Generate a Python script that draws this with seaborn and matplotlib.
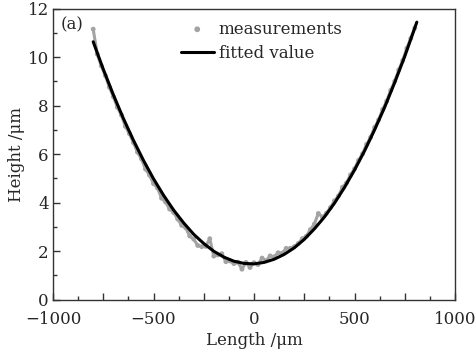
#!/usr/bin/env python3
"""
Profile height vs. length: measured points and parabolic fit (panel a)
"""

import matplotlib
matplotlib.use('Agg')
import matplotlib.pyplot as plt
from matplotlib.ticker import MultipleLocator, FuncFormatter
import seaborn as sns
import pandas as pd

meas_x = list(range(-800, 801, 20))
meas_h = [11.15, 10.12, 9.64, 9.24, 8.76, 8.37, 7.93, 7.61, 7.14, 6.84,
          6.47, 6.08, 5.80, 5.38, 5.13, 4.78, 4.60, 4.18, 4.02, 3.73,
          3.59, 3.32, 3.06, 2.96, 2.62, 2.49, 2.23, 2.18, 2.19, 2.51,
          1.79, 1.84, 1.89, 1.56, 1.59, 1.48, 1.54, 1.25, 1.53, 1.32,
          1.52, 1.44, 1.71, 1.60, 1.80, 1.76, 1.93, 1.91, 2.11, 2.11,
          2.18, 2.31, 2.51, 2.61, 2.88, 3.11, 3.55, 3.40, 3.56, 3.79,
          4.07, 4.27, 4.63, 4.81, 5.14, 5.39, 5.74, 6.01, 6.40, 6.69,
          7.10, 7.41, 7.84, 8.18, 8.63, 9.00, 9.47, 9.86, 10.36, 10.77,
          11.20]

# Fitted curve
fit_x = [-800, -750, -700, -650, -600, -550, -500, -450, -400, -350,
         -300, -250, -200, -150, -100, -50, 0, 50, 100, 150,
         200, 250, 300, 350, 400, 450, 500, 550, 600, 650,
         700, 750, 810]
fit_h = [10.63, 9.50, 8.45, 7.47, 6.57, 5.74, 4.98, 4.30, 3.69, 3.16,
         2.69, 2.31, 1.99, 1.75, 1.58, 1.49, 1.47, 1.53, 1.66, 1.86,
         2.13, 2.48, 2.91, 3.40, 3.97, 4.62, 5.34, 6.13, 7.00, 7.93,
         8.95, 10.03, 11.44]

meas = pd.DataFrame({'length': meas_x, 'height': meas_h})
fit = pd.DataFrame({'length': fit_x, 'height': fit_h})

sns.set_style('ticks')
plt.rcParams['font.family'] = ['DejaVu Serif']
plt.rcParams['font.size'] = 12
plt.rcParams['xtick.direction'] = 'in'
plt.rcParams['ytick.direction'] = 'in'

fig = plt.figure(figsize=(4.75, 3.57), dpi=100)
ax = fig.add_axes([0.1116, 0.161, 0.8463, 0.815])

gray = '#a3a3a3'
sns.lineplot(data=meas, x='length', y='height', ax=ax, color=gray,
             lw=2.2, legend=False, zorder=2)
sns.scatterplot(data=meas, x='length', y='height', ax=ax, color=gray,
                s=12, edgecolor='none', label='measurements', zorder=3)
sns.lineplot(data=fit, x='length', y='height', ax=ax, color='black',
             lw=2.2, label='fitted value', zorder=4)

ax.set_xlim(-1000, 1000)
ax.set_ylim(0, 12)
ax.xaxis.set_major_locator(MultipleLocator(250))
ax.xaxis.set_minor_locator(MultipleLocator(125))
ax.xaxis.set_major_formatter(FuncFormatter(
    lambda v, p: f'{int(v)}'.replace('-', '\u2212') if v % 500 == 0 else ''))
ax.yaxis.set_major_locator(MultipleLocator(2))
ax.yaxis.set_minor_locator(MultipleLocator(1))
ax.tick_params(which='major', length=5, width=1, labelsize=12, color='#333333')
ax.tick_params(which='minor', length=3, width=1, color='#333333')
ax.tick_params(axis='x', pad=8)
ax.tick_params(axis='y', pad=3)

for s in ax.spines.values():
    s.set_color('#333333')
    s.set_linewidth(1.0)

ax.set_xlabel('Length /\u03bcm', fontsize=12, labelpad=3)
ax.set_ylabel('Height /\u03bcm', fontsize=12, labelpad=2)

ax.text(0.018, 0.943, '(a)', transform=ax.transAxes, fontsize=12,
        ha='left', va='center')

ax.legend(loc='upper left', bbox_to_anchor=(0.28, 1.01), frameon=False,
          fontsize=12, handlelength=2.0, handletextpad=0.3,
          labelspacing=0.42, markerscale=1.2)

plt.savefig('out.png', dpi=100)
plt.close()
